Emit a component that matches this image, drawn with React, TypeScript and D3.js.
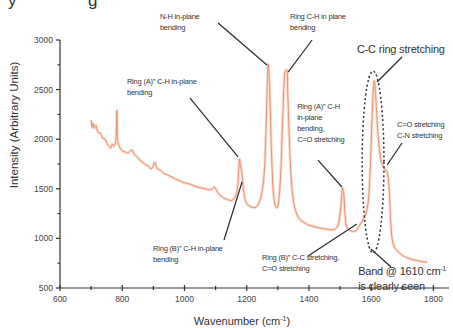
import React from "react";
import * as d3 from "d3";

// Raman spectrum (wavenumber cm-1, intensity a.u.)
const wavenumbers = [
  700, 703, 706, 710, 715, 722, 730, 738, 745, 752, 758, 763, 768, 773, 778, 781, 783, 785, 788,
  795, 802, 810, 818, 825, 832, 838, 845, 852, 860, 868, 876, 884, 892, 898, 904, 908, 914, 922,
  932, 945, 958, 970, 985, 1000, 1015, 1030, 1045, 1060, 1072, 1082, 1090, 1096, 1102, 1110, 1120,
  1130, 1140, 1150, 1158, 1166, 1172, 1177, 1181, 1185, 1190, 1196, 1203, 1212, 1222, 1232, 1242,
  1250, 1257, 1262, 1266, 1269, 1272, 1276, 1281, 1287, 1293, 1298, 1303, 1309, 1315, 1320, 1324,
  1328, 1332, 1337, 1343, 1350, 1358, 1366, 1375, 1385, 1395, 1405, 1415, 1425, 1435, 1445, 1455,
  1465, 1475, 1485, 1493, 1499, 1504, 1508, 1512, 1516, 1521, 1527, 1535, 1543, 1552, 1560, 1567,
  1574, 1581, 1587, 1592, 1597, 1602, 1606, 1610, 1614, 1618, 1623, 1628, 1634, 1640, 1646, 1651,
  1655, 1659, 1663, 1668, 1675, 1685, 1695, 1708, 1720, 1735, 1750, 1765, 1780,
];
const intensities = [
  2195, 2120, 2160, 2110, 2140, 2070, 2060, 2010, 2000, 1950, 1930, 1910, 1950, 1930, 1960, 2100, 2290, 2000, 1950,
  1900, 1880, 1870, 1860, 1880, 1890, 1850, 1830, 1810, 1780, 1760, 1740, 1730, 1700, 1720, 1770, 1740, 1700, 1690,
  1660, 1640, 1620, 1600, 1580, 1560, 1550, 1530, 1515, 1505, 1495, 1490, 1500, 1520, 1490, 1450, 1420,
  1400, 1390, 1380, 1400, 1440, 1560, 1800, 1720, 1650, 1480, 1380, 1340, 1320, 1310, 1320, 1380,
  1480, 1700, 2100, 2550, 2760, 2650, 2250, 1750, 1420, 1320, 1310, 1380, 1650, 2150, 2550, 2690,
  2700, 2450, 2000, 1600, 1380, 1270, 1210, 1180, 1160, 1140, 1130, 1120, 1110, 1105, 1100, 1095,
  1090, 1085, 1095, 1130, 1220, 1380, 1510, 1440, 1240, 1120, 1090, 1075, 1070, 1080, 1120, 1150,
  1190, 1230, 1300, 1420, 1700, 2150, 2450, 2590, 2450, 2250, 2000, 1850, 1760, 1720, 1690, 1670,
  1600, 1430, 1150, 980, 910, 870, 840, 815, 800, 785, 775, 765, 760,
];

const xTicks = [600, 800, 1000, 1200, 1400, 1600, 1800];
const xMinorTicks = [700, 900, 1100, 1300, 1500, 1700];
const yTicks = [500, 1000, 1500, 2000, 2500, 3000];
const yMinorTicks = [750, 1250, 1750, 2250, 2750];

// annotations: text anchor and leader line, in data units
const annotations = [
  { lines: ["N-H in-plane", "bending"], tx: 921, ty: 3212, x1: 1108, y1: 3171, x2: 1265, y2: 2748, size: 7.5 },
  { lines: ["Ring C-H in plane", "bending"], tx: 1339, ty: 3212, x1: 1410, y1: 3000, x2: 1333, y2: 2677, size: 7.5 },
  { lines: ["Ring (A)\u201D C-H in-plane", "bending"], tx: 815, ty: 2557, x1: 1018, y1: 2415, x2: 1172, y2: 1821, size: 7.5 },
  { lines: ["Ring (B)\u201D C-H in-plane", "bending"], tx: 899, ty: 873, x1: 1127, y1: 984, x2: 1185, y2: 1569, size: 7.5 },
  { lines: ["Ring (A)\u201D C-H", "in-plane", "bending,", "C=O stretching"], tx: 1362, ty: 2305, x1: 1429, y1: 1790, x2: 1506, y2: 1518, size: 7.5 },
  { lines: ["Ring (B)\u201D C-C stretching,", "C=O stretching"], tx: 1249, ty: 782, x1: 1397, y1: 823, x2: 1554, y2: 1145, size: 7.5 },
  { lines: ["C-C ring stretching"], tx: 1554, ty: 2869, x1: 1699, y1: 2829, x2: 1619, y2: 2577, size: 11 },
  { lines: ["C=O stretching", "C-N stretching"], tx: 1683, ty: 2123, x1: 1699, y1: 1962, x2: 1651, y2: 1740, size: 7.5 },
  { lines: ["Band @ 1610 cm", "is clearly seen"], tx: 1558, ty: 631, x1: 1599, y1: 893, x2: 1664, y2: 712, size: 11, sup: "-1" },
];
const band = { cx: 1606, cy: 1770, rx: 35, ry: 917 };

const W = 453;
const H = 328;

export default function App() {
  const x = d3.scaleLinear().domain([600, 1850]).range([60, 449]);
  const y = d3.scaleLinear().domain([500, 3000]).range([288, 40]);
  const pts: [number, number][] = wavenumbers.map((w, i) => [w, intensities[i]]);
  const line = d3
    .line<[number, number]>()
    .x((d) => x(d[0]))
    .y((d) => y(d[1]))
    .curve(d3.curveCatmullRom.alpha(0.5));
  const path = line(pts) || "";
  const font = "'Liberation Sans', Arial, sans-serif";

  return (
    <svg width={W} height={H} style={{ position: "absolute", left: 0, top: 0, background: "#fff" }}>
      {/* clipped caption from the page above */}
      <text x={8} y={6} fontSize={17} fontFamily={font} fill="#333">y</text>
      <text x={88} y={6} fontSize={17} fontFamily={font} fill="#333">g</text>

      {/* spectrum */}
      <path d={path} fill="none" stroke="#fcdccd" strokeWidth={3} strokeLinejoin="round" />
      <path d={path} fill="none" stroke="#de7558" strokeWidth={0.9} strokeOpacity={0.8} strokeLinejoin="round" />

      {/* axes */}
      <g stroke="#333" strokeWidth={1.2}>
        <line x1={x(600)} x2={x(1850)} y1={y(500)} y2={y(500)} />
        <line x1={x(600)} x2={x(600)} y1={y(500)} y2={y(3000)} />
        {xTicks.map((t) => (
          <line key={t} x1={x(t)} x2={x(t)} y1={y(500) - 3} y2={y(500) + 3} />
        ))}
        {xMinorTicks.map((t) => (
          <line key={t} x1={x(t)} x2={x(t)} y1={y(500) - 2} y2={y(500) + 2} />
        ))}
        {yTicks.map((t) => (
          <line key={t} x1={x(600) - 4} x2={x(600)} y1={y(t)} y2={y(t)} />
        ))}
        {yMinorTicks.map((t) => (
          <line key={t} x1={x(600) - 2.5} x2={x(600)} y1={y(t)} y2={y(t)} />
        ))}
      </g>
      <g fontFamily={font} fontSize={8.5} fill="#444">
        {xTicks.map((t) => (
          <text key={t} x={x(t)} y={y(500) + 14} textAnchor="middle">{t}</text>
        ))}
        {yTicks.map((t) => (
          <text key={t} x={x(600) - 7} y={y(t) + 3} textAnchor="end">{t}</text>
        ))}
      </g>
      <text x={242} y={325} textAnchor="middle" fontFamily={font} fontSize={11} fill="#333">
        Wavenumber (cm<tspan dy={-4} fontSize={7}>-1</tspan><tspan dy={4}>)</tspan>
      </text>
      <text
        transform="translate(18,125) rotate(-90)"
        textAnchor="middle"
        fontFamily={font}
        fontSize={11.5}
        fill="#333"
      >
        Intensity (Arbitrary Units)
      </text>

      {/* annotations */}
      {annotations.map((a, i) => (
        <g key={i}>
          <line x1={x(a.x1)} y1={y(a.y1)} x2={x(a.x2)} y2={y(a.y2)} stroke="#2a2a2a" strokeWidth={1.2} />
          <text fontFamily={font} fontSize={a.size} fill="#333" letterSpacing={-0.2}>
            {a.lines.map((l, j) => (
              <tspan key={j} x={x(a.tx)} y={y(a.ty) + j * (a.size + 3.5)}>{l}</tspan>
            ))}
            {a.sup && (
              <tspan x={x(a.tx) + 82} y={y(a.ty) - 4} fontSize={a.size * 0.65}>{a.sup}</tspan>
            )}
          </text>
        </g>
      ))}
      <ellipse
        cx={x(band.cx)}
        cy={y(band.cy)}
        rx={x(band.cx + band.rx) - x(band.cx)}
        ry={y(band.cy) - y(band.cy + band.ry)}
        fill="none"
        stroke="#333"
        strokeWidth={1.5}
        strokeDasharray="2,2.5"
      />
    </svg>
  );
}
